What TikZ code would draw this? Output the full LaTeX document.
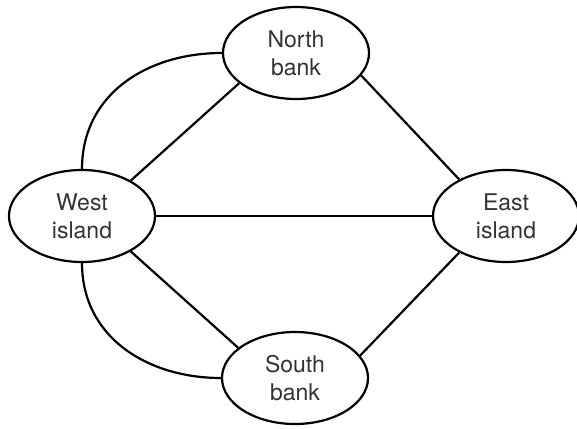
\documentclass[tikz,border=0pt]{standalone}
\usepackage{fontspec}
\setmainfont{TeX Gyre Heros}
\usetikzlibrary{shapes.geometric}
\begin{document}
\begin{tikzpicture}[x=1pt,y=-1pt,
  land/.style={ellipse, draw, line width=2.2pt, inner sep=0pt,
    minimum width=146pt, minimum height=92pt, align=center,
    text=black!80, font=\fontsize{23}{28}\selectfont},
  bridge/.style={line width=2.2pt}]
  \useasboundingbox (0,0) rectangle (577,428);
  \node[land] (N) at (296,53) {North\\bank};
  \node[land] (W) at (82,216) {West\\island};
  \node[land] (E) at (506,216) {East\\island};
  \node[land] (S) at (295,378) {South\\bank};
  % straight bridges
  \draw[bridge] (W.36) -- (N.208);
  \draw[bridge] (N.341) -- (E.142);
  \draw[bridge] (W.east) -- (E.west);
  \draw[bridge] (W.324) -- (S.152);
  \draw[bridge] (E.218) -- (S.19);
  % curved bridges
  \draw[bridge] (W.north) to[out=90,in=180,looseness=1.05] (N.west);
  \draw[bridge] (W.south) to[out=-90,in=180,looseness=1.05] (S.west);
\end{tikzpicture}
\end{document}
